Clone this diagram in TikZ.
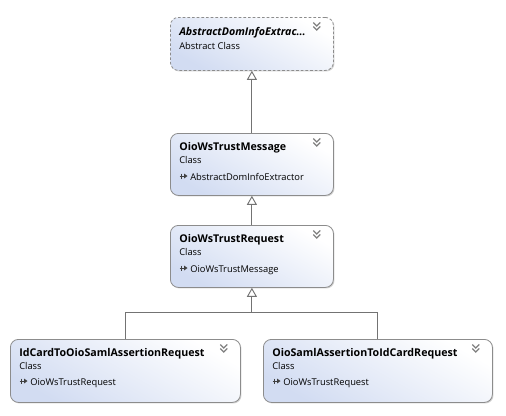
\documentclass[tikz,border=0pt]{standalone}
\usepackage{fontspec}
\setmainfont{Open Sans}
\usetikzlibrary{arrows.meta, positioning, calc, shadows}
\colorlet{cBorder}{black!45}
\colorlet{cLine}{black!55}
\colorlet{cChev}{black!50}
\definecolor{cFill}{RGB}{210,220,242}

% double chevron in the top right corner of a box
\newcommand{\boxchev}[1]{%
  \draw[cChev, line width=0.9pt, line join=miter] ($(#1.north east)+(-20.5,5.5)$) -- ++(3.5,3.5) -- ++(3.5,-3.5)
    ($(#1.north east)+(-20.5,9.5)$) -- ++(3.5,3.5) -- ++(3.5,-3.5);}
% small generalisation glyph in front of the base class
\newcommand{\basemark}[1]{%
  \draw[black!75, line width=0.7pt] ($(#1.base west)+(-9,-6.5)$) -- ++(0,5)
    ($(#1.base west)+(-10.5,-4)$) -- ++(5,0);
  \fill[black!75] ($(#1.base west)+(-6,-6.5)$) -- ++(0,5) -- ++(3.5,-2.5) -- cycle;}

\begin{document}
\begin{tikzpicture}[x=0.75pt, y=-0.75pt,
    classbox/.style={draw=cBorder, line width=0.6pt, rounded corners=6pt,
      top color=white, bottom color=cFill, shading angle=-30,
      drop shadow={shadow xshift=0.8pt, shadow yshift=-0.8pt, fill=black, opacity=0.18},
      anchor=north west, inner sep=0pt},
    absbox/.style={classbox, dash pattern=on 2pt off 1.5pt},
    titletxt/.style={anchor=base west, inner sep=0pt, font=\fontsize{8}{10}\selectfont\bfseries},
    kindtxt/.style={anchor=base west, inner sep=0pt, font=\fontsize{7}{8}\selectfont},
    inherit/.style={cLine, line width=0.7pt, -{Triangle[fill=white, length=6.75pt, width=7.5pt]}}]
  \useasboundingbox (0,0) rectangle (506,415);

  % Caixas das classes
  \node[absbox, minimum width=122.25pt, minimum height=39.75pt] (abs) at (170,17) {};
  \node[classbox, minimum width=122.25pt, minimum height=46.5pt] (msg) at (170,133) {};
  \node[classbox, minimum width=122.25pt, minimum height=46.5pt] (req) at (170,225) {};
  \node[classbox, minimum width=172.5pt, minimum height=47.25pt] (idc) at (10,339) {};
  \node[classbox, minimum width=171.75pt, minimum height=47.25pt] (saml) at (263,339) {};

  % Textos
  \node[titletxt, font=\fontsize{8}{10}\selectfont\bfseries\itshape] (absTitle) at ($(abs.north west)+(9,18)$) {AbstractDomInfoExtrac...};
  \node[kindtxt] (absKind) at ($(abs.north west)+(9,32)$) {Abstract Class};

  \node[titletxt] (msgTitle) at ($(msg.north west)+(9,17)$) {OioWsTrustMessage};
  \node[kindtxt] (msgKind) at ($(msg.north west)+(9,30)$) {Class};
  \node[kindtxt] (msgBase) at ($(msg.north west)+(20,47)$) {AbstractDomInfoExtractor};

  \node[titletxt] (reqTitle) at ($(req.north west)+(9,17)$) {OioWsTrustRequest};
  \node[kindtxt] (reqKind) at ($(req.north west)+(9,30)$) {Class};
  \node[kindtxt] (reqBase) at ($(req.north west)+(20,47)$) {OioWsTrustMessage};

  \node[titletxt] (idcTitle) at ($(idc.north west)+(9,17)$) {IdCardToOioSamlAssertionRequest};
  \node[kindtxt] (idcKind) at ($(idc.north west)+(9,30)$) {Class};
  \node[kindtxt] (idcBase) at ($(idc.north west)+(20,46)$) {OioWsTrustRequest};

  \node[titletxt] (samlTitle) at ($(saml.north west)+(9,17)$) {OioSamlAssertionToIdCardRequest};
  \node[kindtxt] (samlKind) at ($(saml.north west)+(9,30)$) {Class};
  \node[kindtxt] (samlBase) at ($(saml.north west)+(20,46)$) {OioWsTrustRequest};

  % Icones
  \boxchev{abs} \boxchev{msg} \boxchev{req} \boxchev{idc} \boxchev{saml}
  \basemark{msgBase} \basemark{reqBase} \basemark{idcBase} \basemark{samlBase}

  % Heranca
  \draw[inherit] (msg.north) -- (abs.south);
  \draw[inherit] (req.north) -- (msg.south);
  \coordinate (split) at ($(req.south)+(0,25)$);
  \draw[cLine, line width=0.7pt] (idc.north) |- (split) -| (saml.north);
  \draw[inherit] (split) -- (req.south);
\end{tikzpicture}
\end{document}
